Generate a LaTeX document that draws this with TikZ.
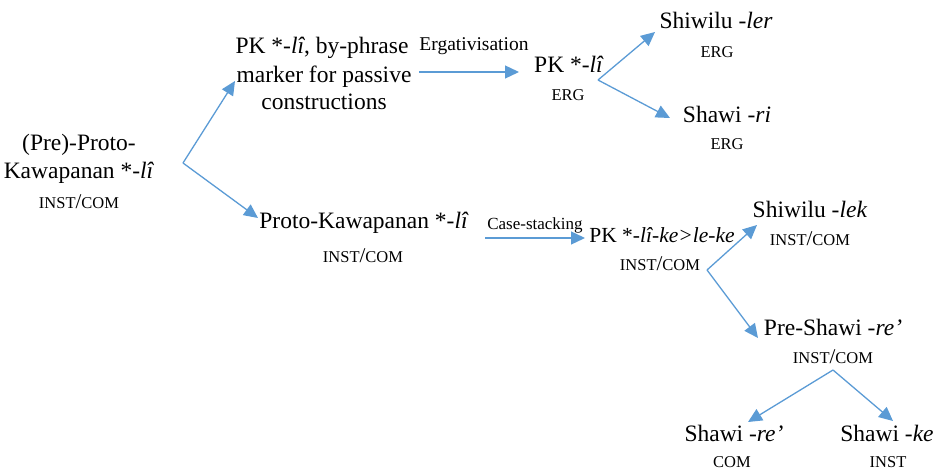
\documentclass[tikz,border=0pt]{standalone}
\usepackage{fontspec}
\setmainfont{Liberation Serif}
\usetikzlibrary{arrows.meta}
\definecolor{arr}{HTML}{5B9BD5}
\newcommand{\mainsz}{\fontsize{23.5}{28}\selectfont}
\newcommand{\smsz}{\fontsize{16.5}{18}\selectfont}
\newcommand{\slsh}{{\fontsize{21}{21}\selectfont/}}
\begin{document}
\begin{tikzpicture}[x=1pt,y=-1pt,
  lbl/.style={anchor=base,inner sep=0pt,font=\mainsz},
  gram/.style={anchor=base,inner sep=0pt,font=\smsz},
  proc/.style={anchor=base,inner sep=0pt},
  arrow/.style={draw=arr,line width=1.3pt,-{Triangle[length=14pt,width=13pt]}}]
\useasboundingbox (0,0) rectangle (934,471);
% root
\node[lbl] (root1) at (79,150) {(Pre)-Proto-};
\node[lbl] (root2) at (79,178) {Kawapanan *-\textit{lî}};
\node[gram] (root3) at (79,208) {INST\slsh COM};
% passive branch
\node[lbl] (a1) at (322,53) {PK *-\textit{lî}, by-phrase};
\node[lbl] (a2) at (324,82) {marker for passive};
\node[lbl] (a3) at (324,109) {constructions};
\node[proc,font=\fontsize{19.5}{22}\selectfont] (ergl) at (474,50) {Ergativisation};
\node[lbl] (pk) at (569,72) {PK *-\textit{lî}};
\node[gram] (pkerg) at (568,100) {ERG};
\node[lbl] (shiw) at (716,28) {Shiwilu -\textit{ler}};
\node[gram] (shiwerg) at (717,57) {ERG};
\node[lbl] (shawi) at (727,122) {Shawi -\textit{ri}};
\node[gram] (shawierg) at (727,149) {ERG};
% case branch
\node[lbl] (proto) at (364,228) {Proto-Kawapanan *-\textit{lî}};
\node[gram] (protoic) at (363,262) {INST\slsh COM};
\node[proc,font=\fontsize{17}{20}\selectfont] (casel) at (535,229) {Case-stacking};
\node[lbl,font=\fontsize{21.5}{26}\selectfont] (pkke) at (662,242) {PK *-\textit{lî-ke>le-ke}};
\node[gram] (pkkeic) at (660,270) {INST\slsh COM};
\node[lbl] (shiwlek) at (810,217) {Shiwilu -\textit{lek}};
\node[gram] (shiwlekic) at (810,245) {INST\slsh COM};
\node[lbl] (preshawi) at (833,335) {Pre-Shawi -\textit{re’}};
\node[gram] (preshawiic) at (833,363) {INST\slsh COM};
\node[lbl] (shawire) at (734,441) {Shawi -\textit{re’}};
\node[gram] (shawirec) at (732,467) {COM};
\node[lbl] (shawike) at (887,441) {Shawi -\textit{ke}};
\node[gram] (shawikei) at (888,467) {INST};
% connector points
\coordinate (f0) at (183,163);
\coordinate (t0a) at (235,81);
\coordinate (t0b) at (258,218);
\coordinate (e1) at (419,72);
\coordinate (e2) at (519,72);
\coordinate (f1) at (598,80);
\coordinate (t1a) at (655,32);
\coordinate (t1b) at (670,118);
\coordinate (c1) at (485,238);
\coordinate (c2) at (585,238);
\coordinate (f2) at (707,270);
\coordinate (t2a) at (757,225);
\coordinate (t2b) at (758,338);
\coordinate (f3) at (833,370);
\coordinate (t3a) at (748,422);
\coordinate (t3b) at (893,421);
\draw[arrow] (f0) -- (t0a);
\draw[arrow] (f0) -- (t0b);
\draw[arrow] (e1) -- (e2);
\draw[arrow] (f1) -- (t1a);
\draw[arrow] (f1) -- (t1b);
\draw[arrow] (c1) -- (c2);
\draw[arrow] (f2) -- (t2a);
\draw[arrow] (f2) -- (t2b);
\draw[arrow] (f3) -- (t3a);
\draw[arrow] (f3) -- (t3b);
\end{tikzpicture}
\end{document}
